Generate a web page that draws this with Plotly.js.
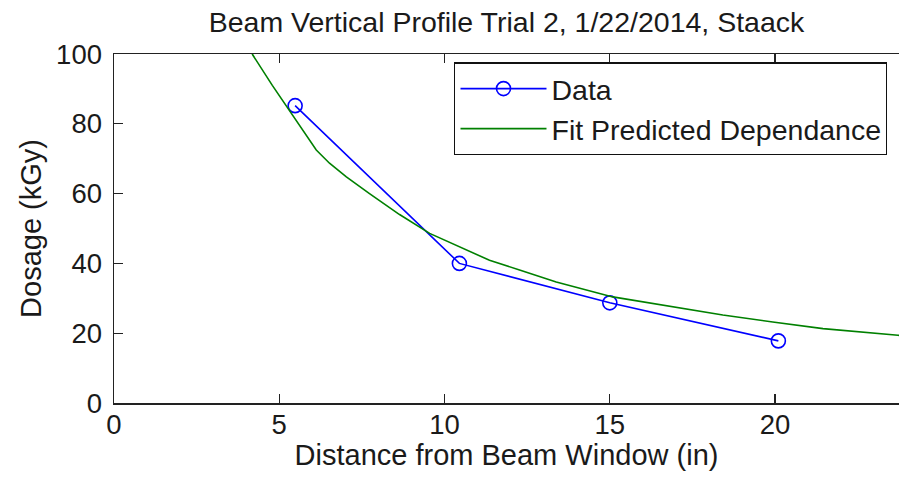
<!DOCTYPE html>
<html>
<head>
<meta charset="utf-8">
<script src="https://cdn.plot.ly/plotly-3.0.1.min.js"></script>
<style>html,body{margin:0;padding:0;background:#fff;}#chart{width:899px;height:481px;}</style>
</head>
<body>
<div id="chart"></div>
<script>
// Measured data
const dataDistance = [5.48, 10.45, 15.0, 20.1];
const dataDose = [85.2, 40.0, 28.7, 17.8];

// Fit curve values
const fitDistance = [4.0, 4.20, 4.79, 5.31, 5.71, 6.12, 6.52, 7.03, 7.73, 8.64, 9.55, 10.45, 11.36, 12.27, 13.38, 15.09, 16.91, 18.42, 19.93, 21.45, 23.72, 24.0];
const fitDose = [104.0, 99.7, 91.0, 83.9, 78.2, 72.5, 68.7, 64.8, 60.0, 54.0, 48.6, 44.7, 40.9, 38.1, 34.7, 30.4, 27.5, 25.2, 23.2, 21.3, 19.4, 19.2];

const xTicks = [0, 5, 10, 15, 20];
const yTicks = [0, 20, 40, 60, 80, 100];

const FONT = 'Liberation Sans, Arial, sans-serif';
const traces = [
  {
    x: dataDistance, y: dataDose, name: 'Data', type: 'scatter', mode: 'lines+markers',
    line: {color: '#0000ff', width: 1.6},
    marker: {symbol: 'circle-open', size: 14, color: '#0000ff', line: {width: 1.6, color: '#0000ff'}}
  },
  {
    x: fitDistance, y: fitDose, name: 'Fit Predicted Dependance', type: 'scatter', mode: 'lines',
    line: {color: '#008000', width: 1.6}
  }
];

const layout = {
  width: 899, height: 481,
  margin: {l: 114, r: 0, t: 54, b: 78, pad: 0},
  paper_bgcolor: '#ffffff', plot_bgcolor: '#ffffff',
  font: {family: FONT, color: '#1a1a1a', size: 27},
  title: {text: 'Beam Vertical Profile Trial 2, 1/22/2014, Staack', x: 0.5, xref: 'paper', xanchor: 'center', y: 0.955, yref: 'container', yanchor: 'middle', font: {family: FONT, size: 28.5, color: '#1a1a1a'}},
  xaxis: {
    range: [0, 23.75], tickvals: xTicks, ticktext: xTicks.map(String),
    ticks: 'inside', ticklen: 9, tickwidth: 1.2, tickcolor: '#222',
    showline: true, linecolor: '#222', linewidth: 1.5, mirror: 'ticks',
    showgrid: false, zeroline: false, ticklabelstandoff: -4,
    tickfont: {family: FONT, size: 27.5, color: '#1a1a1a'},
    title: {text: 'Distance from Beam Window (in)', font: {family: FONT, size: 29, color: '#1a1a1a'}, standoff: 5}
  },
  yaxis: {
    range: [0, 100], tickvals: yTicks, ticktext: yTicks.map(String),
    ticks: 'inside', ticklen: 9, tickwidth: 1.2, tickcolor: '#222',
    showline: true, linecolor: '#222', linewidth: 1.5, mirror: false,
    showgrid: false, zeroline: false, ticklabelstandoff: 5,
    tickfont: {family: FONT, size: 27.5, color: '#1a1a1a'},
    title: {text: 'Dosage (kGy)', font: {family: FONT, size: 29, color: '#1a1a1a'}, standoff: 6}
  },
  legend: {
    x: 0.4335, xanchor: 'left', y: 0.976, yanchor: 'top',
    bgcolor: '#ffffff', bordercolor: '#111', borderwidth: 1.2,
    font: {family: FONT, size: 28.5, color: '#1a1a1a'},
    itemwidth: 86,
    tracegroupgap: 0
  },
  showlegend: true
};

Plotly.newPlot('chart', traces, layout, {displayModeBar: false, staticPlot: true});
</script>
</body>
</html>
